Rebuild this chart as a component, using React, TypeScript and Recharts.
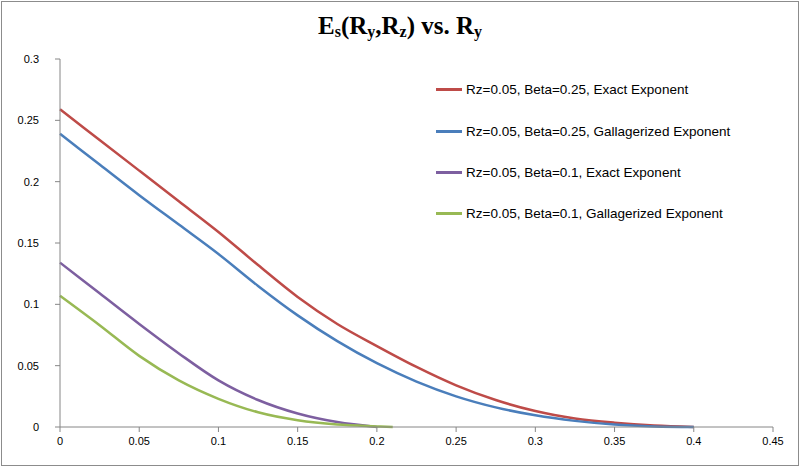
import { LineChart, Line, XAxis, YAxis } from "recharts"

// Ry sample points and E_s values
const ryBeta25 = [0, 0.025, 0.05, 0.075, 0.1, 0.125, 0.15, 0.175, 0.2, 0.225, 0.25, 0.275, 0.3, 0.325, 0.35, 0.375, 0.4]
const exactBeta25 = [0.259, 0.234, 0.209, 0.184, 0.159, 0.132, 0.106, 0.084, 0.066, 0.049, 0.034, 0.022, 0.013, 0.007, 0.0035, 0.0012, 0]
const gallagerBeta25 = [0.239, 0.214, 0.189, 0.165, 0.141, 0.115, 0.091, 0.07, 0.052, 0.037, 0.025, 0.016, 0.0095, 0.005, 0.002, 0.0005, 0]

const ryExactBeta1 = [0, 0.025, 0.05, 0.075, 0.1, 0.125, 0.15, 0.175, 0.2]
const exactBeta1 = [0.134, 0.109, 0.084, 0.06, 0.038, 0.022, 0.011, 0.004, 0]

const ryGallagerBeta1 = [0, 0.025, 0.05, 0.075, 0.1, 0.125, 0.15, 0.175, 0.2, 0.21]
const gallagerBeta1 = [0.107, 0.083, 0.058, 0.038, 0.023, 0.012, 0.0055, 0.002, 0.0005, 0]

const xTicks = [0, 0.05, 0.1, 0.15, 0.2, 0.25, 0.3, 0.35, 0.4, 0.45]
const yTicks = [0, 0.05, 0.1, 0.15, 0.2, 0.25, 0.3]

const seriesNames = [
  "Rz=0.05, Beta=0.25, Exact Exponent",
  "Rz=0.05, Beta=0.25, Gallagerized Exponent",
  "Rz=0.05, Beta=0.1, Exact Exponent",
  "Rz=0.05, Beta=0.1, Gallagerized Exponent",
]
const COLORS = ["#BE4B48", "#4A7EBB", "#7D5FA0", "#98B954"]

const toPoints = (xs: number[], ys: number[]) => xs.map((x, i) => ({ ry: x, es: ys[i] }))

const series = [
  toPoints(ryBeta25, exactBeta25),
  toPoints(ryBeta25, gallagerBeta25),
  toPoints(ryExactBeta1, exactBeta1),
  toPoints(ryGallagerBeta1, gallagerBeta1),
]

const axisColor = "#868686"
const tickFont = { fontSize: 11, fill: "#000", fontFamily: "Liberation Sans, Arial, sans-serif" }

// legend drawn outside recharts so it doesn't eat plot space
const LegendBox = () => (
  <div
    style={{
      position: "absolute",
      left: 436,
      top: 69,
      fontFamily: "Liberation Sans, Arial, sans-serif",
      fontSize: 13.5,
      color: "#000",
    }}
  >
    {seriesNames.map((name, i) => (
      <div key={name} style={{ display: "flex", alignItems: "center", height: 41.4 }}>
        <span style={{ display: "inline-block", width: 26, height: 3, background: COLORS[i], marginRight: 4 }} />
        <span>{name}</span>
      </div>
    ))}
  </div>
)

export default function App() {
  return (
    <div style={{ position: "absolute", left: 0, top: 0, width: 800, height: 466, background: "#fff" }}>
      <div
        style={{
          position: "absolute",
          left: 1,
          top: 1,
          width: 798,
          height: 465,
          boxSizing: "border-box",
          border: "1px solid #8c8c8c",
        }}
      />
      <LineChart width={800} height={466} margin={{ top: 59, right: 27, bottom: 9, left: 0 }}>
        <XAxis
          dataKey="ry"
          type="number"
          domain={[0, 0.45]}
          ticks={xTicks}
          allowDuplicatedCategory={false}
          height={30}
          stroke={axisColor}
          tickLine={{ stroke: axisColor }}
          tickSize={5}
          tickMargin={5}
          tick={tickFont}
        />
        <YAxis
          type="number"
          domain={[0, 0.3]}
          ticks={yTicks}
          width={60}
          stroke={axisColor}
          tickLine={{ stroke: axisColor }}
          tickSize={5}
          tickMargin={16}
          tick={tickFont}
        />
        {series.map((pts, i) => (
          <Line
            key={seriesNames[i]}
            data={pts}
            dataKey="es"
            name={seriesNames[i]}
            type="monotone"
            stroke={COLORS[i]}
            strokeWidth={2.5}
            dot={false}
            isAnimationActive={false}
          />
        ))}
      </LineChart>
      <LegendBox />
      <svg width={800} height={60} style={{ position: "absolute", left: 0, top: 0, pointerEvents: "none" }}>
        <text
          x={400}
          y={34}
          textAnchor="middle"
          fontFamily="Liberation Serif, Times New Roman, serif"
          fontWeight="bold"
          fontSize={25}
          fill="#000"
        >
          E<tspan fontSize={16} dy={3}>s</tspan>
          <tspan dy={-3}>(R</tspan>
          <tspan fontSize={16} dy={3}>y</tspan>
          <tspan dy={-3}>,R</tspan>
          <tspan fontSize={16} dy={3}>z</tspan>
          <tspan dy={-3}>) vs. R</tspan>
          <tspan fontSize={16} dy={3}>y</tspan>
        </text>
      </svg>
    </div>
  )
}
